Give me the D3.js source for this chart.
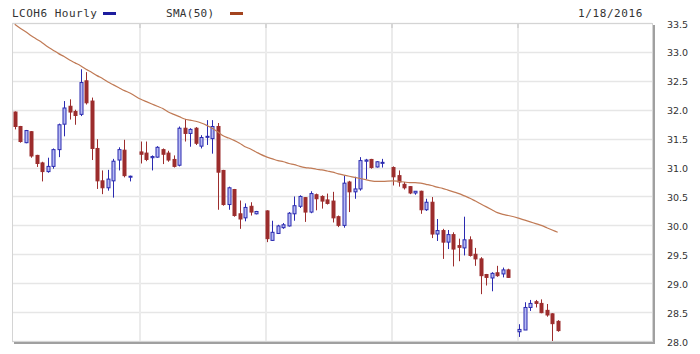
<!DOCTYPE html>
<html>
<head>
<meta charset="utf-8">
<script src="https://cdn.jsdelivr.net/npm/d3@7"></script>
<style>
  body { margin: 0; background: #fff; }
  svg { display: block; }
</style>
</head>
<body>
<svg id="chart" width="700" height="354"></svg>
<script>
// hourly candles, 22 per session
const open  = [31.96,31.71,31.43,31.62,31.21,31.08,30.93,31.02,31.31,31.75,32.06,31.97,31.92,32.50,32.15,31.33,30.77,30.65,30.77,31.13,31.30,30.84,
               31.27,31.25,31.17,31.18,31.31,31.25,31.14,31.04,31.68,31.59,31.68,31.37,31.53,31.50,31.71,30.95,30.36,30.62,30.20,30.13,30.33,30.20,
               30.25,29.74,29.86,29.96,29.99,30.20,30.33,30.48,30.23,30.53,30.50,30.44,30.42,30.15,30.00,30.75,30.58,30.63,31.11,31.14,31.01,31.08,
               31.00,30.86,30.71,30.67,30.56,30.59,30.27,30.40,29.85,29.91,29.71,29.84,29.65,29.61,29.75,29.50,29.42,29.15,29.09,29.18,29.16,29.23,
               28.16,28.19,28.58,28.68,28.65,28.53,28.47,28.34];
const high  = [31.97,31.72,31.65,31.63,31.22,31.10,31.17,31.33,31.76,32.15,32.18,32.00,32.70,32.65,32.21,31.49,30.95,30.96,31.15,31.35,31.48,30.86,
               31.45,31.45,31.21,31.37,31.33,31.29,31.21,31.71,31.84,31.68,31.70,31.56,31.82,31.82,31.77,30.96,30.67,30.63,30.43,30.38,30.40,30.25,
               30.26,30.08,30.01,30.04,30.23,30.50,30.52,30.49,30.59,30.55,30.52,30.55,30.58,30.17,30.86,30.77,30.84,31.18,31.15,31.15,31.11,31.15,
               31.02,30.95,30.75,30.68,30.59,30.60,30.46,30.49,30.11,29.94,29.92,29.88,29.77,30.15,29.81,29.61,29.45,29.16,29.19,29.30,29.27,29.25,
               28.29,28.67,28.71,28.71,28.72,28.64,28.48,28.36];
const low   = [31.66,31.43,31.42,31.17,31.01,30.76,30.91,30.98,31.18,31.54,31.83,31.74,31.89,32.09,31.13,30.63,30.54,30.60,30.48,30.95,30.83,30.76,
               31.07,31.11,30.95,31.17,31.06,31.10,31.00,31.02,31.45,31.36,31.39,31.33,31.39,31.24,30.27,30.34,30.27,30.15,29.94,30.07,30.17,30.19,
               29.71,29.73,29.85,29.94,29.98,30.08,30.30,30.06,30.21,30.26,30.29,30.36,30.05,29.97,29.96,30.23,30.46,30.60,30.80,30.98,31.00,31.00,
               30.69,30.67,30.62,30.54,30.53,30.20,30.25,29.78,29.73,29.42,29.59,29.29,29.38,29.48,29.46,29.30,28.81,28.96,28.86,29.11,29.10,29.09,
               28.07,28.19,28.52,28.58,28.48,28.42,28.00,28.16];
const close = [31.71,31.45,31.64,31.20,31.07,30.93,31.02,31.31,31.74,32.03,31.96,31.90,32.47,32.12,31.33,30.77,30.65,30.80,31.11,31.31,30.86,30.85,
               31.23,31.14,31.19,31.35,31.23,31.13,31.02,31.68,31.59,31.66,31.42,31.52,31.54,31.71,30.92,30.36,30.65,30.17,30.11,30.31,30.23,30.24,
               29.77,29.88,29.99,30.01,30.21,30.34,30.50,30.23,30.55,30.46,30.42,30.38,30.13,30.00,30.73,30.58,30.63,31.12,31.13,31.00,31.10,31.09,
               30.84,30.75,30.65,30.56,30.59,30.27,30.40,29.85,29.91,29.71,29.84,29.59,29.62,29.75,29.48,29.42,29.13,29.10,29.17,29.13,29.23,29.10,
               28.20,28.58,28.65,28.65,28.49,28.45,28.30,28.18];
const sma50 = [33.48,33.41,33.35,33.28,33.22,33.16,33.09,33.03,32.97,32.92,32.86,32.81,32.76,32.70,32.65,32.59,32.54,32.48,32.43,32.38,32.33,32.29,
               32.18,32.14,32.10,32.06,32.02,31.96,31.92,31.88,31.84,31.82,31.80,31.77,31.73,31.68,31.62,31.55,31.51,31.47,31.42,31.36,31.32,31.27,
               31.18,31.15,31.12,31.10,31.07,31.05,31.02,31.00,30.99,30.97,30.96,30.94,30.92,30.89,30.87,30.85,30.83,30.81,30.79,30.77,30.76,30.76,
               30.77,30.76,30.75,30.74,30.74,30.73,30.71,30.69,30.66,30.64,30.61,30.58,30.55,30.51,30.47,30.42,30.37,30.32,30.27,30.22,30.19,30.17,
               30.12,30.09,30.06,30.03,30.00,29.96,29.92,29.88];
const sessionStarts = [0, 22, 44, 66, 88];
const yTicks = [28.0, 28.5, 29.0, 29.5, 30.0, 30.5, 31.0, 31.5, 32.0, 32.5, 33.0, 33.5];
const symbol = "LCOH6 Hourly";
const smaLabel = "SMA(50)";
const dateLabel = "1/18/2016";

const svg = d3.select("#chart");
const plotLeft = 12, plotRight = 652, plotTop = 23, plotBottom = 341;
const upColor = "#2a2ab0", upFill = "#b7bbf3", downColor = "#9c2d2d", smaColor = "#c07a55";

// each new session leaves one empty slot
const slotOf = i => i + d3.bisectRight(sessionStarts, i) - 1;
const data = open.map((o, i) => ({ i, slot: slotOf(i), o, h: high[i], l: low[i], c: close[i], sma: sma50[i] }));

const x = d3.scaleLinear().domain([-0.5, 116.2]).range([plotLeft, plotRight]);
const y = d3.scaleLinear().domain([28, 33.5]).range([plotBottom, plotTop]);

// grid
svg.append("g").selectAll("line")
    .data(yTicks)
    .enter().append("line")
    .attr("x1", plotLeft).attr("x2", plotRight)
    .attr("y1", d => Math.round(y(d)) + 0.5).attr("y2", d => Math.round(y(d)) + 0.5)
    .attr("stroke", "#e6e6e6").attr("stroke-width", 1.5);

const dayLines = sessionStarts.slice(1).map(s => Math.round(x(slotOf(s)) - 1));
svg.append("g").selectAll("line")
    .data(dayLines)
    .enter().append("line")
    .attr("x1", d => d).attr("x2", d => d)
    .attr("y1", plotTop).attr("y2", plotBottom)
    .attr("stroke", "#ebebeb").attr("stroke-width", 2);
svg.append("g").selectAll("line")
    .data(dayLines)
    .enter().append("line")
    .attr("x1", d => d).attr("x2", d => d)
    .attr("y1", plotTop).attr("y2", plotTop + 5)
    .attr("stroke", "#d6d6d6").attr("stroke-width", 2);

// frame with shadow on right and bottom
svg.append("rect")
    .attr("x", plotLeft + 0.5).attr("y", plotTop + 0.5)
    .attr("width", plotRight - plotLeft).attr("height", plotBottom - plotTop)
    .attr("fill", "none").attr("stroke", "#d4d4d4");
svg.append("path")
    .attr("d", `M${plotRight + 2},${plotTop + 2}V${plotBottom + 2}H${plotLeft + 2}`)
    .attr("fill", "none").attr("stroke", "#a0a0a0").attr("stroke-width", 2);

// candles
const candles = svg.append("g").selectAll("g")
    .data(data)
    .enter().append("g");

candles.append("line")
    .attr("x1", d => Math.round(x(d.slot)) + 0.5)
    .attr("x2", d => Math.round(x(d.slot)) + 0.5)
    .attr("y1", d => y(d.h))
    .attr("y2", d => y(d.l))
    .attr("stroke", d => d.c >= d.o ? upColor : downColor)
    .attr("stroke-width", 1);

candles.append("rect")
    .attr("x", d => Math.round(x(d.slot)) - 1)
    .attr("y", d => y(Math.max(d.o, d.c)))
    .attr("width", 3)
    .attr("height", d => Math.max(1, y(Math.min(d.o, d.c)) - y(Math.max(d.o, d.c))))
    .attr("fill", d => d.c >= d.o ? upFill : downColor)
    .attr("stroke", d => d.c >= d.o ? upColor : downColor)
    .attr("stroke-width", 1);

// moving average
const smaLine = d3.line()
    .x(d => x(d.slot))
    .y(d => y(d.sma))
    .curve(d3.curveMonotoneX);

svg.append("path")
    .datum(data)
    .attr("d", smaLine)
    .attr("fill", "none")
    .attr("stroke", smaColor)
    .attr("stroke-width", 1.2);

// price axis
const yAxis = d3.axisRight(y)
    .tickValues(yTicks)
    .tickSize(0)
    .tickPadding(15)
    .tickFormat(d3.format(".1f"));

svg.append("g")
    .attr("transform", `translate(${plotRight},1)`)
    .call(yAxis)
    .call(g => g.select(".domain").remove())
    .selectAll("text")
    .attr("font-family", "DejaVu Sans, Verdana, sans-serif")
    .attr("font-size", 9.5)
    .attr("fill", "#333");

// legend and date
const mono = "DejaVu Sans Mono, monospace";
svg.append("text")
    .attr("x", 12).attr("y", 17)
    .attr("font-family", mono).attr("font-size", 11).attr("letter-spacing", 0.5)
    .attr("fill", "#333")
    .text(symbol);
svg.append("rect")
    .attr("x", 103).attr("y", 12).attr("width", 13).attr("height", 3)
    .attr("fill", "#1d1d9e");
svg.append("text")
    .attr("x", 166).attr("y", 17)
    .attr("font-family", mono).attr("font-size", 11).attr("letter-spacing", 0.3)
    .attr("fill", "#333")
    .text(smaLabel);
svg.append("rect")
    .attr("x", 230).attr("y", 12).attr("width", 13).attr("height", 3)
    .attr("fill", "#a3441f");
svg.append("text")
    .attr("x", 578).attr("y", 17)
    .attr("font-family", mono).attr("font-size", 11).attr("letter-spacing", 0.6)
    .attr("fill", "#333")
    .text(dateLabel);
</script>
</body>
</html>
